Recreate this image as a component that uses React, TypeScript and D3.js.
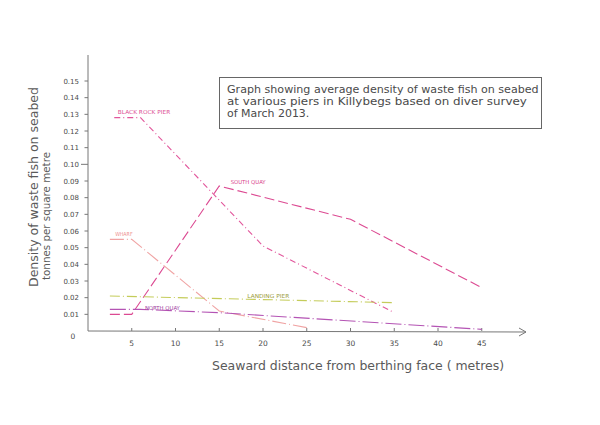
import React from "react";
import * as d3 from "d3";

const xTicks = [5, 10, 15, 20, 25, 30, 35, 40, 45];
const yTicks = [0.01, 0.02, 0.03, 0.04, 0.05, 0.06, 0.07, 0.08, 0.09, 0.1, 0.11, 0.12, 0.13, 0.14, 0.15];

const blackRockX = [3, 6, 20, 35];
const blackRockY = [0.128, 0.128, 0.051, 0.011];
const southQuayX = [2.5, 5, 15, 30, 45];
const southQuayY = [0.01, 0.01, 0.087, 0.067, 0.026];
const wharfX = [2.5, 5, 15, 25];
const wharfY = [0.055, 0.055, 0.012, 0.002];
const landingPierX = [2.5, 35];
const landingPierY = [0.021, 0.017];
const northQuayX = [2.5, 6, 15, 45];
const northQuayY = [0.013, 0.013, 0.011, 0.001];

const seriesNames = ["BLACK ROCK PIER", "SOUTH QUAY", "WHARF", "LANDING PIER", "NORTH QUAY"];

const titleLines = [
  "Graph showing average density of waste fish on seabed",
  "at various piers in Killybegs based on diver survey",
  "of March 2013.",
];

const FONT = "'DejaVu Sans', sans-serif";

export default function App() {
  const x = d3.scaleLinear().domain([0, 50]).range([88, 525.5]);
  const y = d3.scaleLinear().domain([0, 0.15]).range([331, 81]);
  const line = d3
    .line<[number, number]>()
    .x((d) => x(d[0]))
    .y((d) => y(d[1]));

  const series = [
    { name: seriesNames[0], xs: blackRockX, ys: blackRockY, color: "#e2579c", dash: "6,3,1,3", lx: 3.4, ly: 0.13, lc: "#dc4f94" },
    { name: seriesNames[1], xs: southQuayX, ys: southQuayY, color: "#dc4a92", dash: "10,4", lx: 16.3, ly: 0.088, lc: "#d8408a" },
    { name: seriesNames[2], xs: wharfX, ys: wharfY, color: "#f0a4a4", dash: "14,3,1,3", lx: 3.1, ly: 0.057, lc: "#ee9090" },
    { name: seriesNames[3], xs: landingPierX, ys: landingPierY, color: "#c4cc5a", dash: "10,3,1,3", lx: 18.2, ly: 0.02, lc: "#9c9c3c" },
    { name: seriesNames[4], xs: northQuayX, ys: northQuayY, color: "#b454b4", dash: "16,3,1,3", lx: 6.5, ly: 0.0125, lc: "#a03ca0" },
  ];

  const axisColor = "#777";
  const textColor = "#4a4a4a";

  return (
    <svg
      width={600}
      height={425}
      style={{ position: "absolute", left: 0, top: 0, background: "#fff" }}
      fontFamily={FONT}
    >
      <rect x={0} y={0} width={600} height={425} fill="#fff" />

      {/* title box */}
      <rect x={219.5} y={77.5} width={322} height={51} fill="none" stroke="#666" strokeWidth={1} />
      {titleLines.map((t, i) => (
        <text
          key={i}
          x={227}
          y={93 + i * 12.2}
          fontSize={11}
          fill={textColor}
          textLength={t.length * 5.88}
          lengthAdjust="spacingAndGlyphs"
        >
          {t}
        </text>
      ))}

      {/* axes */}
      <line x1={88} y1={55} x2={88} y2={331} stroke={axisColor} strokeWidth={1} />
      <line x1={88} y1={331} x2={526} y2={332} stroke={axisColor} strokeWidth={1} />
      <polyline points="519,328 526,332 519,336" fill="none" stroke={axisColor} strokeWidth={1} />

      {yTicks.map((t) => (
        <g key={t}>
          <line
            x1={Math.abs(t - 0.1) < 1e-9 ? 81 : 84.5}
            x2={88}
            y1={y(t)}
            y2={y(t)}
            stroke={axisColor}
            strokeWidth={1}
          />
          <text x={79} y={y(t) + 2.5} fontSize={7} textAnchor="end" fill={textColor}>
            {t.toFixed(2)}
          </text>
        </g>
      ))}
      <text x={73} y={339} fontSize={7.5} textAnchor="middle" fill={textColor}>
        0
      </text>

      {xTicks.map((t) => (
        <g key={t}>
          <line x1={x(t)} x2={x(t)} y1={331} y2={328} stroke={axisColor} strokeWidth={1} />
          <text x={x(t)} y={346} fontSize={7.5} textAnchor="middle" fill={textColor}>
            {t}
          </text>
        </g>
      ))}

      {/* axis titles */}
      <text
        transform="translate(38,187) rotate(-90)"
        fontSize={13}
        textAnchor="middle"
        fill="#5a5a5a"
        textLength={200}
        lengthAdjust="spacingAndGlyphs"
      >
        Density of waste fish on seabed
      </text>
      <text
        transform="translate(50,216) rotate(-90)"
        fontSize={11}
        textAnchor="middle"
        fill="#5a5a5a"
        textLength={128}
        lengthAdjust="spacingAndGlyphs"
      >
        tonnes per square metre
      </text>
      <text
        x={212}
        y={370}
        fontSize={12}
        fill="#5a5a5a"
        textLength={292}
        lengthAdjust="spacingAndGlyphs"
      >
        Seaward distance from berthing face ( metres)
      </text>

      {/* series */}
      {series.map((s) => {
        const pts = s.xs.map((v, i) => [v, s.ys[i]] as [number, number]);
        return (
          <g key={s.name}>
            <path d={line(pts) || ""} fill="none" stroke={s.color} strokeWidth={1.1} strokeDasharray={s.dash} />
            <text
              x={x(s.lx)}
              y={y(s.ly)}
              fontSize={5.5}
              fill={s.lc}
              textLength={s.name.length * 3.5}
              lengthAdjust="spacingAndGlyphs"
            >
              {s.name}
            </text>
          </g>
        );
      })}
    </svg>
  );
}
